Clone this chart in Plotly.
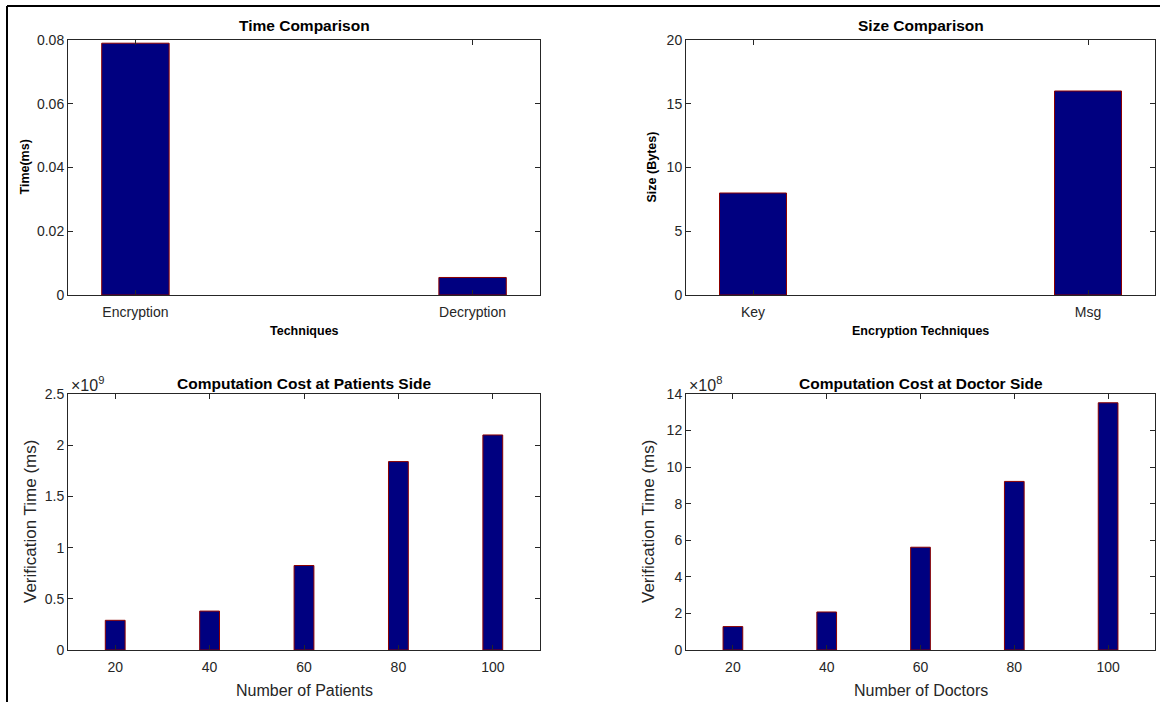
import plotly.graph_objects as go

# ---- data ----
time_techniques = ["Encryption", "Decryption"]
time_values = [0.079, 0.0055]

size_techniques = ["Key", "Msg"]
size_values = [8, 16]

patients = [20, 40, 60, 80, 100]
patients_cost = [0.29e9, 0.38e9, 0.825e9, 1.84e9, 2.10e9]

doctors = [20, 40, 60, 80, 100]
doctors_cost = [1.28e8, 2.08e8, 5.62e8, 9.22e8, 13.52e8]

p_ticks = [0, 0.5e9, 1.0e9, 1.5e9, 2.0e9, 2.5e9]
p_ticktext = ["0", "0.5", "1", "1.5", "2", "2.5"]
d_ticks = [0, 2e8, 4e8, 6e8, 8e8, 10e8, 12e8, 14e8]
d_ticktext = ["0", "2", "4", "6", "8", "10", "12", "14"]

W, H = 1160, 702
FONT = "Liberation Sans, Arial, sans-serif"
FILL = "#000080"
EDGE = "#8b0000"
AX = "#262626"


def px(x):
    return x / W


def py(y):
    return 1 - y / H


# box geometry (pixels)
L1, R1 = 68, 540
L2, R2 = 686, 1155
T1, B1 = 40, 295
T2, B2 = 394, 650

fig = go.Figure()

bar_style = dict(marker=dict(color=FILL, line=dict(color=EDGE, width=1)), showlegend=False)

fig.add_trace(go.Bar(x=time_techniques, y=time_values, width=0.2, xaxis="x", yaxis="y", **bar_style))
fig.add_trace(go.Bar(x=size_techniques, y=size_values, width=0.2, xaxis="x2", yaxis="y2", **bar_style))
fig.add_trace(go.Bar(x=patients, y=patients_cost, width=4.2, xaxis="x3", yaxis="y3", **bar_style))
fig.add_trace(go.Bar(x=doctors, y=doctors_cost, width=4.2, xaxis="x4", yaxis="y4", **bar_style))


def ax(size, **kw):
    d = dict(showline=True, linecolor=AX, linewidth=1, mirror="ticks", ticks="inside",
             ticklen=5, tickcolor=AX, showgrid=False, zeroline=False, automargin=False,
             tickfont=dict(family=FONT, color=AX, size=size))
    d.update(kw)
    return d


fig.update_layout(
    template="none",
    width=W, height=H, autosize=False,
    margin=dict(l=0, r=0, t=0, b=0, pad=0),
    paper_bgcolor="white", plot_bgcolor="white",
    font=dict(family=FONT, color="#000"),
    xaxis=ax(14, domain=[px(L1), px(R1)], anchor="y", type="category", range=[-0.2, 1.2],
             ticklabelstandoff=4),
    yaxis=ax(14, domain=[py(B1), py(T1)], anchor="x", range=[0, 0.08],
             tickvals=[0, 0.02, 0.04, 0.06, 0.08], ticktext=["0", "0.02", "0.04", "0.06", "0.08"]),
    xaxis2=ax(14, domain=[px(L2), px(R2)], anchor="y2", type="category", range=[-0.2, 1.2],
              ticklabelstandoff=4),
    yaxis2=ax(14, domain=[py(B1), py(T1)], anchor="x2", range=[0, 20], dtick=5),
    xaxis3=ax(14, domain=[px(L1), px(R1)], anchor="y3", range=[10, 110], tickvals=patients,
              ticklabelstandoff=4),
    yaxis3=ax(14, domain=[py(B2), py(T2)], anchor="x3", range=[0, 2.5e9],
              tickvals=p_ticks, ticktext=p_ticktext),
    xaxis4=ax(14, domain=[px(L2), px(R2)], anchor="y4", range=[10, 110], tickvals=doctors,
              ticklabelstandoff=4),
    yaxis4=ax(14, domain=[py(B2), py(T2)], anchor="x4", range=[0, 14e8],
              tickvals=d_ticks, ticktext=d_ticktext),
)

ann = []


def text(x, y, s, size, bold=False, angle=0, color="#000", xanchor="center", yanchor="middle"):
    ann.append(dict(x=px(x), y=py(y), xref="paper", yref="paper", text=f"<b>{s}</b>" if bold else s,
                    showarrow=False, textangle=angle, xanchor=xanchor, yanchor=yanchor,
                    font=dict(family=FONT, size=size, color=color)))


# titles
text((L1 + R1) / 2, 25, "Time Comparison", 15.5, bold=True)
text((L2 + R2) / 2, 25, "Size Comparison", 15.5, bold=True)
text((L1 + R1) / 2, 383, "Computation Cost at Patients Side", 15.5, bold=True)
text((L2 + R2) / 2, 383, "Computation Cost at Doctor Side", 15.5, bold=True)

# x-axis titles
text((L1 + R1) / 2, 331, "Techniques", 12.5, bold=True)
text((L2 + R2) / 2, 331, "Encryption Techniques", 12.5, bold=True)
text((L1 + R1) / 2, 690, "Number of Patients", 16, color=AX)
text((L2 + R2) / 2, 690, "Number of Doctors", 16, color=AX)

# y-axis titles
text(25, (T1 + B1) / 2, "Time(ms)", 12.5, bold=True, angle=-90)
text(652, (T1 + B1) / 2, "Size (Bytes)", 12.5, bold=True, angle=-90)
text(30, (T2 + B2) / 2, "Verification Time (ms)", 17, angle=-90, color=AX)
text(648, (T2 + B2) / 2, "Verification Time (ms)", 17, angle=-90, color=AX)

# exponent labels
text(L1 + 1, 384, "×10<sup>9</sup>", 16, color=AX, xanchor="left")
text(L2 + 1, 384, "×10<sup>8</sup>", 16, color=AX, xanchor="left")

fig.update_layout(annotations=ann)

# outer frame (top and left edges)
fig.add_shape(type="line", xref="paper", yref="paper", x0=px(7), x1=px(7), y0=0, y1=py(6),
              line=dict(color="black", width=2))
fig.add_shape(type="line", xref="paper", yref="paper", x0=px(7), x1=1, y0=py(6), y1=py(6),
              line=dict(color="black", width=2))

fig.write_html("out.html",
               config={"displayModeBar": False},
               post_script="document.body.style.margin='0px';document.body.style.padding='0px';"
                           "document.body.style.overflow='hidden';")
